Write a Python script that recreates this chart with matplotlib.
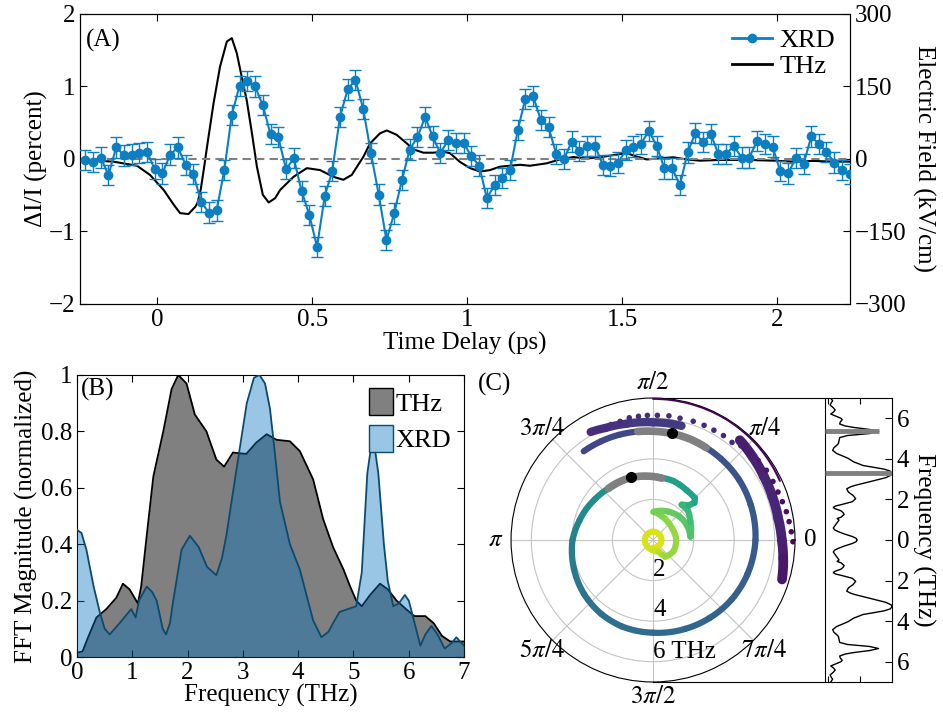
import numpy as np
import matplotlib
matplotlib.use("Agg")
import matplotlib.pyplot as plt
from matplotlib.colors import Normalize
from matplotlib.lines import Line2D
from matplotlib.patches import Patch

plt.rcParams['font.family'] = ['Liberation Serif', 'DejaVu Serif']
plt.rcParams['mathtext.fontset'] = 'stix'
plt.rcParams['font.size'] = 18
plt.rcParams['axes.linewidth'] = 0.8
plt.rcParams['xtick.direction'] = 'in'
plt.rcParams['ytick.direction'] = 'in'
plt.rcParams['xtick.major.size'] = 5
plt.rcParams['ytick.major.size'] = 5

# ---- panel A : time domain ----
delay = [-0.233, -0.208, -0.183, -0.158, -0.133, -0.108, -0.083, -0.059, -0.034, -0.009,
         0.016, 0.041, 0.066, 0.091, 0.116, 0.141, 0.166, 0.191, 0.216, 0.240,
         0.265, 0.290, 0.315, 0.340, 0.365, 0.390, 0.415, 0.440, 0.465, 0.490,
         0.515, 0.540, 0.564, 0.589, 0.614, 0.639, 0.664, 0.689, 0.714, 0.739,
         0.764, 0.789, 0.814, 0.839, 0.864, 0.888, 0.913, 0.938, 0.963, 0.988,
         1.013, 1.038, 1.063, 1.088, 1.113, 1.138, 1.163, 1.187, 1.212, 1.237,
         1.262, 1.287, 1.312, 1.337, 1.362, 1.387, 1.412, 1.437, 1.462, 1.487,
         1.511, 1.536, 1.561, 1.586, 1.611, 1.636, 1.661, 1.686, 1.711, 1.736,
         1.761, 1.786, 1.810, 1.835, 1.860, 1.885, 1.910, 1.935, 1.960, 1.985,
         2.010, 2.035, 2.060, 2.085, 2.110, 2.134, 2.159, 2.184, 2.209, 2.234]
xrd = [-0.01, -0.04, 0.02, -0.22, 0.16, 0.05, 0.06, 0.08, 0.10, -0.14,
       -0.20, 0.06, 0.16, -0.08, -0.21, -0.59, -0.74, -0.71, -0.15, 0.61,
       1.01, 1.08, 1.00, 0.74, 0.34, 0.30, -0.14, 0.01, -0.44, -0.77,
       -1.21, -0.51, -0.17, 0.58, 0.96, 1.09, 0.69, 0.08, -0.49, -1.12,
       -0.75, -0.29, 0.13, 0.30, 0.58, 0.31, 0.08, 0.26, 0.22, 0.22,
       0.04, -0.09, -0.54, -0.36, -0.26, -0.15, 0.40, 0.83, 0.87, 0.54,
       0.44, 0.07, 0.00, 0.24, 0.11, 0.18, 0.18, -0.08, -0.09, -0.05,
       0.12, 0.17, 0.21, 0.39, 0.18, -0.13, -0.13, -0.36, 0.09, 0.36,
       0.23, 0.34, 0.07, 0.07, 0.18, 0.02, 0.02, 0.25, 0.21, 0.17,
       -0.17, -0.20, 0.01, -0.07, 0.31, 0.21, 0.10, -0.05, -0.15, -0.21]
xrd_err = 0.14

thz_t = [-0.249, -0.142, -0.066, -0.024, 0.020, 0.053, 0.073, 0.100, 0.122, 0.130,
         0.140, 0.150, 0.160, 0.181, 0.202, 0.224, 0.240, 0.256, 0.272, 0.288,
         0.305, 0.321, 0.340, 0.359, 0.380, 0.396, 0.439, 0.482, 0.525, 0.568,
         0.600, 0.627, 0.665, 0.686, 0.718, 0.740, 0.772, 0.805, 0.826, 0.858,
         0.890, 0.923, 0.944, 0.976, 1.009, 1.041, 1.073, 1.105, 1.138, 1.170,
         1.202, 1.256, 1.299, 1.342, 1.385, 1.428, 1.471, 1.514, 1.547, 1.579,
         1.622, 1.665, 1.708, 1.751, 1.815, 1.902, 1.988, 2.052, 2.116, 2.181, 2.234]
thz_field = [-2, -5.5, -14, -33, -64, -95, -112, -114, -99, -90,
             -62, -20, 25, 115, 191, 243, 250, 219, 170, 122,
             53, -16, -74, -90, -81, -64, -37, -19, -23, -37,
             -43, -33, 5, 32, 53, 59, 50, 32, 20, 13,
             13, 15, 12, -6, -19, -26, -23, -16, -14, -12,
             -14, -9, -1, 4, 1, 3.5, 8, 12, 5, -1,
             1.5, 3.5, -1, -3.5, -2, -2, -3.5, -5.5, -4, -5.5, -5.5]

# ---- panel B : spectra ----
thz_f = [0.0, 0.1, 0.2, 0.35, 0.53, 0.71, 0.83, 0.95, 1.10, 1.16, 1.26, 1.38, 1.56, 1.71,
         1.83, 1.98, 2.13, 2.34, 2.52, 2.66, 2.82, 3.06, 3.24, 3.43, 3.61, 3.85, 4.03,
         4.27, 4.45, 4.63, 4.82, 4.94, 5.05, 5.15, 5.30, 5.48, 5.62, 5.78, 5.95, 6.10,
         6.30, 6.45, 6.60, 6.75, 7.0]
thz_mag = [0.015, 0.02, 0.07, 0.14, 0.17, 0.21, 0.26, 0.24, 0.19, 0.25, 0.43, 0.64, 0.80, 0.95,
           1.00, 0.97, 0.86, 0.80, 0.70, 0.675, 0.725, 0.72, 0.76, 0.79, 0.77, 0.765, 0.73,
           0.63, 0.49, 0.39, 0.31, 0.25, 0.20, 0.18, 0.22, 0.26, 0.24, 0.20, 0.17, 0.145,
           0.145, 0.12, 0.075, 0.055, 0.055]
xrd_f = [0.0, 0.08, 0.17, 0.30, 0.41, 0.50, 0.59, 0.77, 0.98, 1.06, 1.12, 1.26, 1.36, 1.44,
         1.55, 1.61, 1.68, 1.74, 1.89, 2.04, 2.20, 2.35, 2.52, 2.62, 2.70, 2.88, 3.07, 3.20,
         3.30, 3.40, 3.49, 3.58, 3.67, 3.85, 4.03, 4.15, 4.27, 4.42, 4.55, 4.63, 4.75, 4.90,
         5.05, 5.15, 5.25, 5.35, 5.45, 5.55, 5.62, 5.72, 5.82, 5.93, 6.00, 6.08, 6.21, 6.30,
         6.41, 6.52, 6.65, 6.78, 6.86, 7.0]
xrd_mag = [0.45, 0.44, 0.38, 0.25, 0.16, 0.10, 0.08, 0.12, 0.17, 0.14, 0.20, 0.25, 0.23, 0.20,
           0.10, 0.08, 0.12, 0.20, 0.38, 0.43, 0.39, 0.32, 0.29, 0.35, 0.43, 0.66, 0.90, 0.99,
           1.00, 0.97, 0.88, 0.72, 0.55, 0.40, 0.31, 0.22, 0.13, 0.07, 0.09, 0.12, 0.16, 0.17,
           0.18, 0.30, 0.65, 0.79, 0.65, 0.40, 0.27, 0.18, 0.19, 0.22, 0.20, 0.14, 0.04, 0.08,
           0.11, 0.08, 0.03, 0.05, 0.07, 0.04]

# ---- panel C : phase spiral (radius = frequency in THz, angle = phase in deg, unwrapped) ----
spiral_f = [0.38, 0.40, 0.41, 0.41, 0.41, 0.40, 0.40, 0.42, 0.50,
            0.64, 0.85, 1.02, 1.15, 1.14, 1.10, 1.15, 1.25, 1.39,
            1.58, 1.74, 1.83, 1.85,
            2.05, 2.25, 2.24, 2.45, 2.75, 2.92, 2.96, 3.03, 3.08, 3.10,
            3.16, 3.26, 3.36,
            3.50, 3.75, 3.97, 4.15, 4.32, 4.45, 4.53, 4.57, 4.66, 4.75, 4.86, 4.95,
            5.05, 5.12, 5.18, 5.22, 5.25,
            5.30, 5.33, 5.36, 5.40, 5.45, 5.50, 5.55]
spiral_phase = [-90, -45, 0, 45, 90, 135, 180, 225, 270,
                296, 302, 306, 331, 360, 391, 410, 430, 449,
                423, 402, 382, 365,
                386, 400, 411, 404, 402, 405, 416, 425, 431, 442,
                455, 469, 491,
                505, 525, 540, 560, 578, 595, 610, 630, 650, 666, 683, 700,
                720, 740, 755, 770, 780,
                790, 800, 810, 818, 828, 838, 848]
upper_f = [5.80, 5.80, 5.88, 6.00, 6.15]
upper_phase = [76, 90, 103, 113, 120]
right_f = [6.52, 6.40, 6.30, 6.26, 6.26, 6.35, 6.48, 6.65]
right_phase = [49, 40, 30, 20, 10, 0, -8, -17]
edge_f = [6.96, 6.96, 6.94, 6.90]
edge_phase = [90, 60, 40, 25]
dot_f = [6.05, 6.06, 6.07, 6.14, 6.14, 6.15, 6.15, 6.17, 6.15, 6.18, 6.19, 6.19, 6.21, 6.19,
         6.35, 6.45, 6.50, 6.56, 6.58, 6.60, 6.65, 6.72, 6.77, 6.83, 6.90]
dot_phase = [114, 110, 105.5, 101, 96.7, 92.6, 88, 82.7, 77.5, 71.3, 66, 61, 56, 51,
             47, 42, 37, 31.6, 26, 21, 16.5, 12, 7.7, 3.4, -0.7]
hi1_f = [3.08, 3.16, 3.26, 3.36]
hi1_phase = [82, 95, 109, 131]
hi2_f = [5.25, 5.30, 5.33, 5.36, 5.40]
hi2_phase = [60, 70, 80, 90, 98]
peak_f = [3.30, 5.35]
peak_mag = [1.00, 0.79]
peak_phase = [109, 80]

blue = '#0b7fc1'
fig = plt.figure(figsize=(9.43, 7.2), dpi=100)

# ===== (A) =====
ax1 = fig.add_axes([0.0848, 0.5778, 0.8166, 0.4028])
ax2 = ax1.twinx()
ax1.set_zorder(ax2.get_zorder() + 1)
ax1.patch.set_visible(False)
ax1.axhline(0, color='#808080', lw=1.5, ls=(0, (4, 2.5)), zorder=1)
ax1.errorbar(delay, xrd, yerr=xrd_err, color=blue, marker='o', ms=6, lw=1.5,
             elinewidth=1, capsize=4.5, capthick=1, zorder=3)
ax2.plot(thz_t, thz_field, color='k', lw=1.5)
ax1.set_xlim(-0.25, 2.235)
ax1.set_ylim(-2, 2)
ax2.set_ylim(-300, 300)
ax1.set_xticks([0, 0.5, 1, 1.5, 2])
ax1.set_xticklabels(['0', '0.5', '1', '1.5', '2'])
ax1.set_yticks([-2, -1, 0, 1, 2])
ax2.set_yticks([-300, -150, 0, 150, 300])
ax1.tick_params(top=True, right=False)
ax1.set_xlabel('Time Delay (ps)', labelpad=1)
ax1.set_ylabel('ΔI/I (percent)', labelpad=0)
ax2.set_ylabel('Electric Field (kV/cm)', rotation=270, va='bottom', labelpad=4)
handles = [Line2D([], [], color=blue, marker='o', ms=6, lw=2),
           Line2D([], [], color='k', lw=2)]
ax1.legend(handles, ['XRD', 'THz'], loc='upper right', frameon=False, handlelength=1.5,
           handletextpad=0.3, labelspacing=0.1, borderaxespad=0.15, fontsize=19)
ax1.text(0.008, 0.95, '(A)', transform=ax1.transAxes, va='top', ha='left')

# ===== (B) =====
axB = fig.add_axes([0.0817, 0.0875, 0.4104, 0.3917])
axB.fill_between(thz_f, thz_mag, color='#808080', lw=0, zorder=1)
axB.plot(thz_f, thz_mag, color='k', lw=1.3, zorder=2)
axB.fill_between(xrd_f, xrd_mag, color='#0072BD', alpha=0.4, lw=0, zorder=3)
axB.plot(xrd_f, xrd_mag, color='#0b4a70', lw=1.3, zorder=4)
axB.set_xlim(0, 7)
axB.set_ylim(0, 1)
axB.set_xticks(range(8))
axB.set_yticks([0, 0.2, 0.4, 0.6, 0.8, 1])
axB.set_yticklabels(['0', '0.2', '0.4', '0.6', '0.8', '1'])
axB.tick_params(top=True, right=True)
axB.set_xlabel('Frequency (THz)', labelpad=0)
axB.set_ylabel('FFT Magnitude (normalized)', labelpad=2)
axB.legend([Patch(fc='#808080', ec='k'), Patch(fc='#99c6e5', ec='#0b4a70')], ['THz', 'XRD'],
           loc='upper right', frameon=False, handlelength=0.9, handleheight=1.2,
           handletextpad=0.1, labelspacing=0.35, borderaxespad=0.1, fontsize=19)
axB.text(0.01, 0.99, '(B)', transform=axB.transAxes, va='top', ha='left')

# ===== (C) side spectrum =====
axS = fig.add_axes([0.6925, 0.0528, 0.2534, 0.3944])
axS.plot(xrd_mag, xrd_f, color='k', lw=1)
axS.plot(xrd_mag, [-f for f in xrd_f], color='k', lw=1)
axS.hlines(peak_f, -0.05, peak_mag, color='#808080', lw=3.5, zorder=3)
axS.axvline(-0.05, color='k', lw=0.8)
axS.set_xlim(-2.746, 1.0)
axS.set_ylim(-7, 7)
axS.spines['left'].set_visible(False)
axS.set_xticks([0, 0.5])
axS.set_xticklabels([])
axS.tick_params(axis='x', top=True, bottom=True, length=4)
axS.yaxis.tick_right()
axS.set_yticks([6, 4, 2, 0, -2, -4, -6])
axS.set_yticklabels(['6', '4', '2', '0', '2', '4', '6'])
axS.yaxis.set_label_position('right')
axS.set_ylabel('Frequency (THz)', rotation=270, va='bottom', labelpad=2)

# ===== (C) polar =====
axP = fig.add_axes([0.5419, 0.0528, 0.3012, 0.3944], projection='polar')
norm = Normalize(0, 7)
cmap = plt.get_cmap('viridis_r')


def curved(line):
    # let the polar transform bend the segment along the angle
    line.get_path()._interpolation_steps = 12
    return line


def add_path(ax, f, ph, lw):
    # one short polar line per step so colour follows frequency
    th = np.deg2rad(ph)
    for i in range(len(f) - 1):
        c = cmap(norm(0.5 * (f[i] + f[i + 1])))
        ln, = ax.plot(th[i:i + 2], f[i:i + 2], color=c, lw=lw, solid_capstyle='round', zorder=3)
        curved(ln)


add_path(axP, spiral_f, spiral_phase, 4.5)
add_path(axP, upper_f, upper_phase, 6)
add_path(axP, right_f, right_phase, 7)
add_path(axP, edge_f, edge_phase, 1.5)
axP.scatter(np.deg2rad(dot_phase), dot_f, c=dot_f, cmap='viridis_r', norm=norm, s=16,
            lw=0, zorder=3)
for hf, hp in [(hi1_f, hi1_phase), (hi2_f, hi2_phase)]:
    ln, = axP.plot(np.deg2rad(hp), hf, color='#808080', lw=5.5, solid_capstyle='round', zorder=4)
    curved(ln)
axP.plot(np.deg2rad(peak_phase), peak_f, 'o', color='k', ms=7, zorder=5)
axP.set_ylim(0, 7)
axP.set_yticks([2, 4, 6])
axP.set_yticklabels([])
axP.set_xticks(np.deg2rad(np.arange(0, 360, 45)))
axP.set_xticklabels(['0', r'$\pi/4$', r'$\pi/2$', r'$3\pi/4$', r'$\pi$',
                     r'$5\pi/4$', r'$3\pi/2$', r'$7\pi/4$'])
axP.tick_params(axis='x', length=0, pad=4)
axP.tick_params(axis='y', length=0)
axP.grid(color='#c4c4c4', lw=0.8)
for r, s in [(1.5, '2'), (3.45, '4'), (5.5, '6 THz')]:
    axP.text(np.deg2rad(270), r, s, ha='left', va='center', zorder=6)
fig.text(0.507, 0.466, '(C)', ha='left', va='center')

fig.savefig('out.png', dpi=100)
